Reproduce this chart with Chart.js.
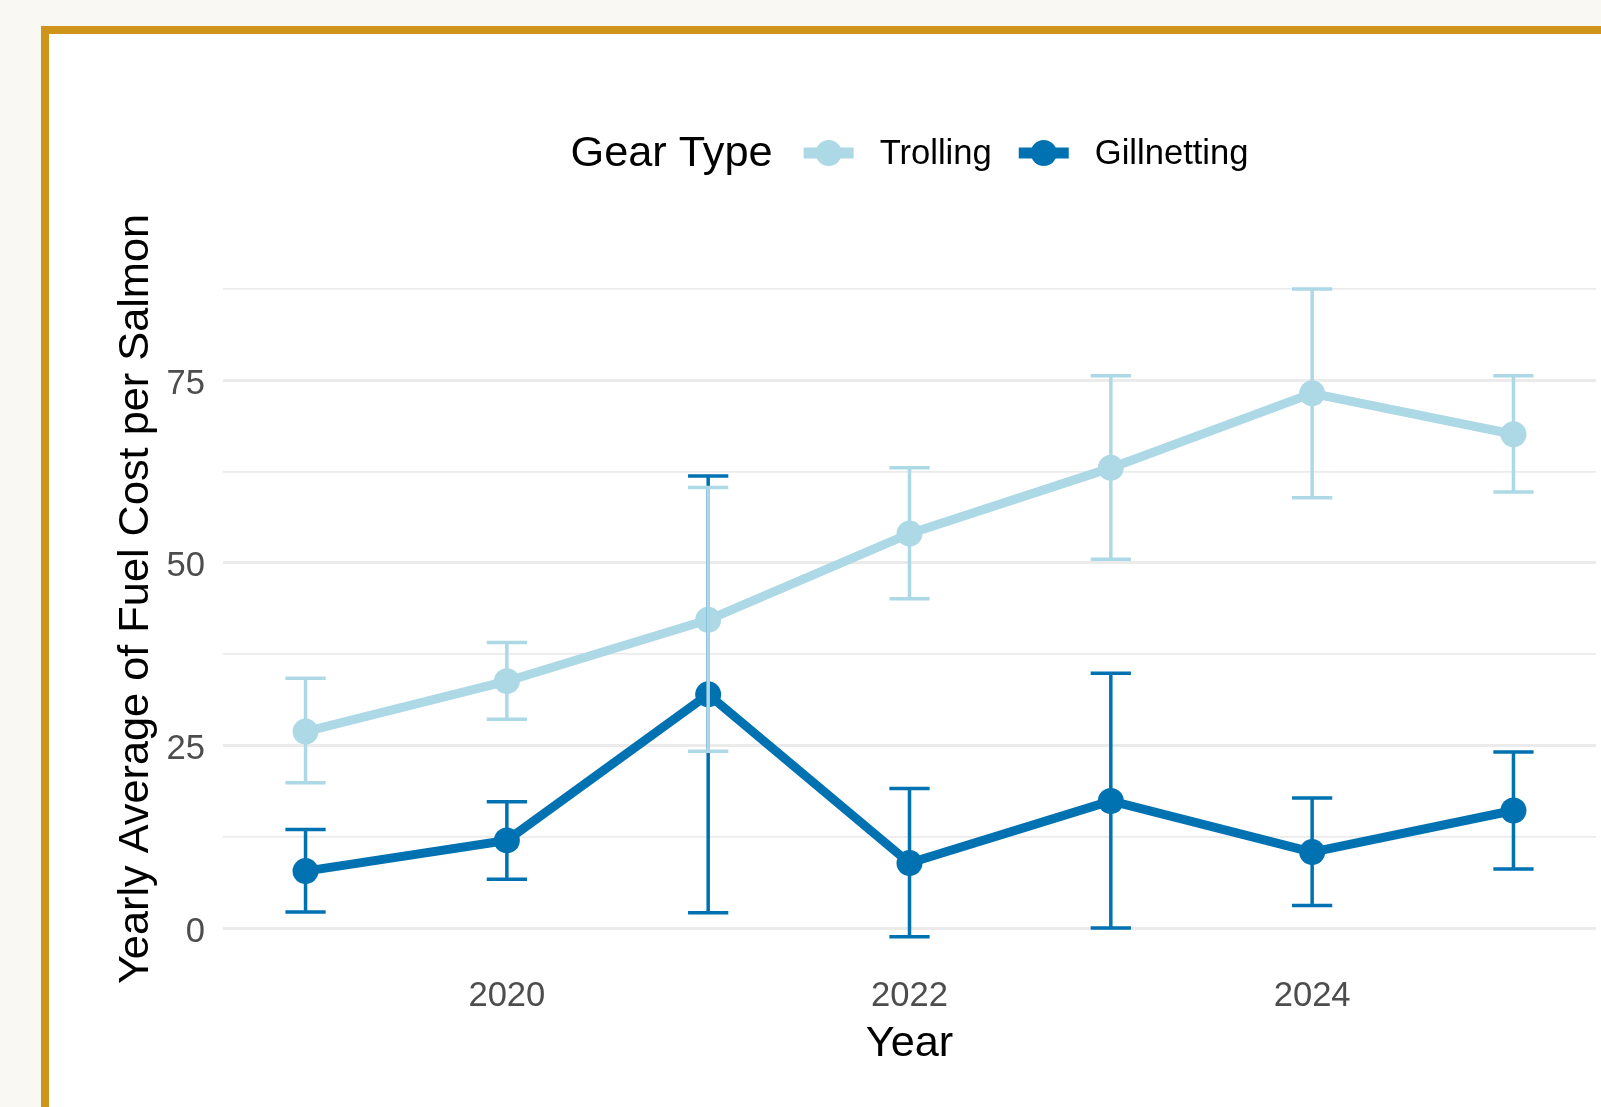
<!DOCTYPE html>
<html>
<head>
<meta charset="utf-8">
<script src="https://cdn.jsdelivr.net/npm/chart.js@4.4.1/dist/chart.umd.min.js"></script>
<style>
  html, body { margin: 0; padding: 0; overflow: hidden; background: #faf8f3; }
  .frame {
    position: absolute; left: 41px; top: 26px;
    width: 1700px; height: 1200px;
    border: 8px solid #cf951b; background: #ffffff;
  }
  #fuelChart { position: absolute; left: 0; top: 0; }
</style>
</head>
<body>
<div class="frame"></div>
<canvas id="fuelChart" width="1601" height="1107"></canvas>
<script>
const years = [2019, 2020, 2021, 2022, 2023, 2024, 2025];

// yearly mean fuel cost per salmon, with lower / upper error limits
const trollingMean = [26.9, 33.8, 42.2, 54.0, 63.0, 73.2, 67.6];
const trollingLow  = [19.9, 28.6, 24.2, 45.1, 50.5, 58.9, 59.7];
const trollingHigh = [34.2, 39.1, 60.3, 63.0, 75.6, 87.5, 75.6];

const gillnetMean = [7.8, 12.0, 32.0, 8.9, 17.4, 10.4, 16.1];
const gillnetLow  = [2.2, 6.7, 2.1, -1.2, 0.0, 3.1, 8.1];
const gillnetHigh = [13.5, 17.3, 61.9, 19.1, 34.9, 17.8, 24.1];

const yTicks = [0, 12.5, 25, 37.5, 50, 62.5, 75, 87.5];
const xTicks = [2020, 2022, 2024];

const LIGHT = '#add8e6';
const DARK = '#0072b2';
const FONT = "'Liberation Sans', Arial, sans-serif";
const BASE = 43.3;
const SMALL = 34.6;

function toPoints(vals) {
    return vals.map((v, i) => ({ x: years[i], y: v }));
}

const series = [
    { label: 'Trolling', color: LIGHT, mean: trollingMean, low: trollingLow, high: trollingHigh },
    { label: 'Gillnetting', color: DARK, mean: gillnetMean, low: gillnetLow, high: gillnetHigh }
];

// vertical error bars with caps, drawn over lines and points
const errorBars = {
    id: 'errorBars',
    afterDatasetsDraw(chart) {
        const { ctx, scales: { x, y } } = chart;
        ctx.save();
        ctx.lineWidth = 3.5;
        ctx.lineCap = 'butt';
        [series[1], series[0]].forEach(s => {
            ctx.strokeStyle = s.color;
            years.forEach((yr, i) => {
                const px = x.getPixelForValue(yr);
                const half = x.getPixelForValue(yr + 0.1) - px;
                const top = y.getPixelForValue(s.high[i]);
                const bot = y.getPixelForValue(s.low[i]);
                ctx.beginPath();
                ctx.moveTo(px, top); ctx.lineTo(px, bot);
                ctx.moveTo(px - half, top); ctx.lineTo(px + half, top);
                ctx.moveTo(px - half, bot); ctx.lineTo(px + half, bot);
                ctx.stroke();
            });
        });
        ctx.restore();
    }
};

// horizontal legend with the title inline, centred over the plot
const gearLegend = {
    id: 'gearLegend',
    afterDraw(chart) {
        const { ctx, chartArea } = chart;
        const titleFont = BASE + 'px ' + FONT;
        const itemFont = SMALL + 'px ' + FONT;
        const keyW = 50;
        const cy = 153;
        ctx.save();
        ctx.font = titleFont;
        const titleW = ctx.measureText('Gear Type').width;
        ctx.font = itemFont;
        const labelW = series.map(s => ctx.measureText(s.label).width);
        const total = titleW + 31 + (keyW + 26) * 2 + labelW[0] + 27 + labelW[1];
        let cx = (chartArea.left + chartArea.right) / 2 - total / 2;

        ctx.fillStyle = '#000';
        ctx.textBaseline = 'alphabetic';
        ctx.font = titleFont;
        ctx.fillText('Gear Type', cx, 166);
        cx += titleW + 31;

        series.forEach((s, i) => {
            ctx.fillStyle = s.color;
            ctx.fillRect(cx, cy - 5.5, keyW, 11);
            ctx.beginPath();
            ctx.arc(cx + keyW / 2, cy, 13, 0, Math.PI * 2);
            ctx.fill();
            cx += keyW + 26;
            ctx.fillStyle = '#000';
            ctx.font = itemFont;
            ctx.fillText(s.label, cx, 164);
            cx += labelW[i] + 27;
        });
        ctx.restore();
    }
};

const ctx = document.getElementById('fuelChart').getContext('2d');
const fuelChart = new Chart(ctx, {
    type: 'line',
    data: {
        datasets: series.map(s => ({
            label: s.label,
            data: toPoints(s.mean),
            borderColor: s.color,
            backgroundColor: s.color,
            borderWidth: 9,
            pointRadius: 13,
            pointBorderWidth: 0,
            pointHoverRadius: 13,
            tension: 0
        }))
    },
    options: {
        responsive: false,
        animation: false,
        devicePixelRatio: 1,
        events: [],
        layout: {
            autoPadding: false,
            padding: { top: 229, right: 5, bottom: 0, left: 0 }
        },
        plugins: {
            legend: { display: false },
            tooltip: { enabled: false }
        },
        scales: {
            x: {
                type: 'linear',
                min: 2018.59,
                max: 2025.41,
                afterBuildTicks: scale => { scale.ticks = xTicks.map(v => ({ value: v })); },
                afterFit: scale => {
                    scale.height = 138;
                    scale.paddingLeft = 0;
                    scale.paddingRight = 0;
                },
                grid: { display: false, drawTicks: false },
                border: { display: false },
                ticks: {
                    padding: 7,
                    color: '#4d4d4d',
                    font: { family: FONT, size: SMALL },
                    callback: v => String(v)
                },
                title: {
                    display: true,
                    text: 'Year',
                    color: '#000',
                    font: { family: FONT, size: BASE },
                    padding: { top: 0, bottom: 37 }
                }
            },
            y: {
                type: 'linear',
                min: -5.6,
                max: 95.7,
                afterBuildTicks: scale => { scale.ticks = yTicks.map(v => ({ value: v })); },
                afterFit: scale => { scale.width = 223; },
                grid: {
                    drawTicks: false,
                    color: '#ebebeb',
                    lineWidth: c => (c.tick && c.tick.value % 25 === 0 ? 3 : 1.8)
                },
                border: { display: false },
                ticks: {
                    padding: 18,
                    labelOffset: 4,
                    autoSkip: false,
                    color: '#4d4d4d',
                    font: { family: FONT, size: SMALL },
                    callback: v => (v % 25 === 0 ? String(v) : '')
                },
                title: {
                    display: true,
                    text: 'Yearly Average of Fuel Cost per Salmon',
                    color: '#000',
                    font: { family: FONT, size: BASE },
                    padding: { top: 110, bottom: 0 }
                }
            }
        }
    },
    plugins: [errorBars, gearLegend]
});
</script>
</body>
</html>
